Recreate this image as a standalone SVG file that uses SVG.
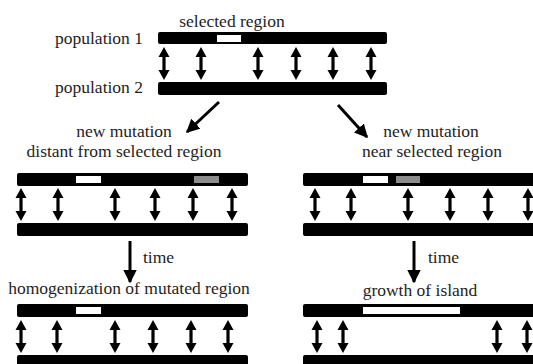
<svg xmlns="http://www.w3.org/2000/svg" width="533" height="364" viewBox="0 0 533 364" font-family="'Liberation Serif', 'DejaVu Serif', serif" font-size="17.5">
<style>
text{fill:#1e1e1e}
.bar{fill:#000}
.sel{fill:#fff}
.mut{fill:#8c8c8c}
.ln{stroke:#000;stroke-width:3;fill:none}
</style>
<defs>
<path id="da" d="M0,0 L5.5,10 L1.6,10 L1.6,23 L5.5,23 L0,33 L-5.5,23 L-1.6,23 L-1.6,10 L-5.5,10 Z" fill="#000"/>
<marker id="ah" viewBox="0 0 10 10" refX="9" refY="5" markerWidth="4.5" markerHeight="4.5" orient="auto" markerUnits="strokeWidth">
<path d="M0,0 L10,5 L0,10 Z" fill="#000"/>
</marker>
</defs>
<rect width="533" height="364" fill="#fff"/>

<g id="initial">
<text x="232" y="27" text-anchor="middle">selected region</text>
<text x="99" y="44" text-anchor="middle">population 1</text>
<text x="99" y="93" text-anchor="middle">population 2</text>
<rect class="bar" x="158" y="32" width="229" height="12" rx="2"/>
<rect class="sel" x="217" y="35" width="24" height="7"/>
<rect class="bar" x="158" y="82" width="229" height="13" rx="2"/>
<use href="#da" x="164" y="47"/><use href="#da" x="201" y="47"/><use href="#da" x="258" y="47"/>
<use href="#da" x="296" y="47"/><use href="#da" x="333" y="47"/><use href="#da" x="371" y="47"/>
</g>

<g id="distant">
<text x="124" y="137" text-anchor="middle">new mutation</text>
<text x="124" y="157" text-anchor="middle">distant from selected region</text>
<rect class="bar" x="17" y="173" width="231" height="13" rx="2"/>
<rect class="sel" x="76" y="176" width="25" height="7"/>
<rect class="mut" x="194" y="176" width="25" height="7"/>
<rect class="bar" x="17" y="223" width="231" height="13" rx="2"/>
<use href="#da" x="21" y="188"/><use href="#da" x="58" y="188"/><use href="#da" x="115" y="188"/>
<use href="#da" x="155" y="188"/><use href="#da" x="193" y="188"/><use href="#da" x="232" y="188"/>
</g>

<g id="near">
<text x="431" y="137" text-anchor="middle">new mutation</text>
<text x="432" y="157" text-anchor="middle">near selected region</text>
<rect class="bar" x="303" y="173" width="240" height="13" rx="2"/>
<rect class="sel" x="363" y="176" width="25" height="7"/>
<rect class="mut" x="396" y="176" width="24" height="7"/>
<rect class="bar" x="303" y="223" width="240" height="13" rx="2"/>
<use href="#da" x="315" y="188"/><use href="#da" x="351" y="188"/><use href="#da" x="408" y="188"/>
<use href="#da" x="450" y="188"/><use href="#da" x="488" y="188"/><use href="#da" x="528" y="188"/>
</g>

<g id="homogenization">
<text x="129" y="294" text-anchor="middle">homogenization of mutated region</text>
<rect class="bar" x="17" y="304" width="231" height="13" rx="2"/>
<rect class="sel" x="76" y="307" width="25" height="7"/>
<rect class="bar" x="17" y="355" width="231" height="13" rx="2"/>
<use href="#da" x="21" y="320"/><use href="#da" x="57" y="320"/><use href="#da" x="115" y="320"/>
<use href="#da" x="153" y="320"/><use href="#da" x="191" y="320"/><use href="#da" x="228" y="320"/>
</g>

<g id="island">
<text x="420" y="296" text-anchor="middle">growth of island</text>
<rect class="bar" x="303" y="304" width="240" height="13" rx="2"/>
<rect class="sel" x="363" y="307" width="97" height="7"/>
<rect class="bar" x="303" y="355" width="240" height="13" rx="2"/>
<use href="#da" x="317" y="320"/><use href="#da" x="343" y="320"/>
<use href="#da" x="497" y="320"/><use href="#da" x="527" y="320"/>
</g>

<g id="connectors">
<line class="ln" x1="219" y1="102" x2="187" y2="132" marker-end="url(#ah)"/>
<line class="ln" x1="338" y1="105" x2="367" y2="137" marker-end="url(#ah)"/>
<line class="ln" x1="130" y1="241" x2="130" y2="282" marker-end="url(#ah)"/>
<text x="143" y="263">time</text>
<line class="ln" x1="414" y1="241" x2="414" y2="282" marker-end="url(#ah)"/>
<text x="428" y="263">time</text>
</g>
</svg>
